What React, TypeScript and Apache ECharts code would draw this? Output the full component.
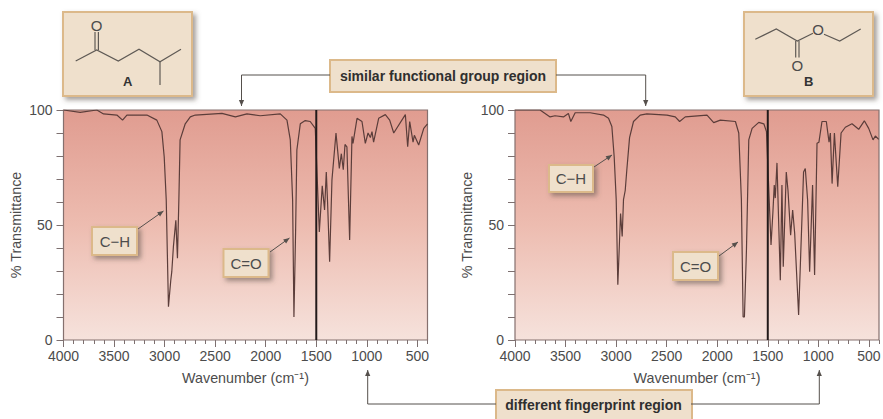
import React, { useEffect, useRef } from "react";
import * as echarts from "echarts";

const wavenumberTicks = [4000, 3500, 3000, 2500, 2000, 1500, 1000, 500];
const transmittanceLabels = [0, 50, 100];

const ketoneWavenumbers = [4000, 3835, 3670, 3604, 3472, 3416, 3373, 3175, 3077, 3027, 3004, 2984, 2962, 2939, 2929, 2913, 2889, 2873, 2859, 2847, 2796, 2746, 2697, 2433, 2300, 2186, 2054, 1856, 1790, 1757, 1734, 1721, 1705, 1692, 1658, 1609, 1560, 1510, 1470, 1441, 1418, 1401, 1388, 1368, 1345, 1305, 1272, 1252, 1233, 1216, 1197, 1170, 1147, 1137, 1097, 1048, 1015, 988, 965, 949, 933, 883, 817, 774, 734, 619, 596, 576, 543, 530, 487, 437, 400];
const ketoneTransmittance = [100, 99, 100, 98.3, 97.8, 95.6, 97.8, 97.8, 95.6, 90.6, 79.7, 61, 14.5, 26, 29.7, 40.6, 52, 35.6, 61, 87, 94, 97, 97.8, 98.5, 97, 98.3, 97.5, 98.3, 95.6, 87, 61, 10, 46, 82.6, 94, 95.4, 95, 92, 47, 67, 56.5, 73, 59.5, 34, 69.6, 90, 74.6, 81, 74, 85, 84, 43.5, 88.5, 85.5, 96.4, 95, 85.5, 90, 88, 90.6, 86, 96.4, 98, 95.6, 90, 98, 84, 95, 86, 89, 84.8, 92, 94];

const esterWavenumbers = [4000, 3752, 3653, 3604, 3521, 3472, 3448, 3405, 3257, 3125, 3075, 3042, 3019, 2999, 2983, 2956, 2940, 2927, 2910, 2894, 2867, 2828, 2762, 2696, 2497, 2415, 2372, 2316, 2101, 2035, 1969, 1820, 1787, 1761, 1744, 1731, 1711, 1688, 1655, 1589, 1539, 1513, 1468, 1449, 1436, 1426, 1409, 1376, 1360, 1347, 1317, 1300, 1274, 1254, 1234, 1195, 1146, 1129, 1106, 1086, 1057, 1037, 1013, 994, 964, 921, 894, 881, 864, 841, 808, 775, 733, 667, 601, 545, 502, 459, 436, 403];
const esterTransmittance = [100, 100, 97, 97.5, 97, 98.5, 95, 98.8, 98.8, 97.8, 96.4, 92.8, 79.7, 61, 24, 55, 45, 61, 65, 74, 88, 95, 97.8, 98.3, 97.8, 97, 95, 97, 97.8, 94.5, 95.6, 95, 90, 61, 10, 10, 39, 87, 92, 94.6, 94, 90.6, 41.3, 55.8, 67.4, 61.7, 77, 26, 67.4, 31.9, 73, 65, 45.6, 56.5, 46.4, 10.9, 73, 74.6, 60.9, 29.7, 67.4, 28.3, 85.5, 86, 95, 95, 86, 90, 68, 90, 66.7, 90, 92.5, 94, 91.6, 95.3, 92, 87, 88.7, 87.2];

const TEXT = "#4c4c4c";
const FONT = "'Liberation Sans', Arial, sans-serif";
const BOX_FILL = "#efe0cc";
const BOX_EDGE = "#dcb98a";
const BOND = "#5f5a55";
const ARROW = "#55504c";

const zip = (xs: number[], ys: number[]) => xs.map((x, i) => [x, ys[i]]);

const box = (x: number, y: number, w: number, h: number, shadow = true) => ({
  type: "rect", z: 10,
  shape: { x, y, width: w, height: h },
  style: {
    fill: BOX_FILL, stroke: BOX_EDGE, lineWidth: 2,
    ...(shadow ? { shadowBlur: 5, shadowOffsetX: 3, shadowOffsetY: 3, shadowColor: "rgba(90,80,70,0.55)" } : {}),
  },
});
const label = (text: string, x: number, y: number, size: number, weight = "normal", fill = TEXT) => ({
  type: "text", z: 11, x, y,
  style: { text, fontFamily: FONT, fontSize: size, fontWeight: weight, fill, textAlign: "center", textVerticalAlign: "middle" },
});
const poly = (points: number[][], stroke = BOND, lineWidth = 1.2) => ({
  type: "polyline", z: 11, shape: { points }, style: { stroke, lineWidth, fill: "none" },
});
const head = (x1: number, y1: number, x2: number, y2: number, size = 6, half = 2.6) => {
  const d = Math.hypot(x2 - x1, y2 - y1) || 1;
  const ux = (x2 - x1) / d, uy = (y2 - y1) / d;
  const bx = x2 - ux * size, by = y2 - uy * size;
  return {
    type: "polygon", z: 11,
    shape: { points: [[x2, y2], [bx - uy * half, by + ux * half], [bx + uy * half, by - ux * half]] },
    style: { fill: ARROW },
  };
};
const arrow = (points: number[][]) => {
  const a = points[points.length - 2], b = points[points.length - 1];
  return [poly(points, ARROW, 1), head(a[0], a[1], b[0], b[1])];
};

const graphics: any[] = [
  // structure A
  box(63, 12, 129, 84),
  poly([[75.7, 61], [96.7, 50], [118.3, 61], [139, 49.3], [160, 61.7], [181, 49.3]]),
  poly([[160, 61.7], [160, 85]]),
  poly([[95, 50], [95, 32]]),
  poly([[98.4, 50], [98.4, 32]]),
  label("O", 96.7, 25.5, 15),
  label("A", 127.7, 81.5, 13, "bold", "#333"),
  // structure B
  box(744, 12, 129, 84),
  poly([[755.3, 39.3], [776.3, 29], [797.3, 41], [813, 33.3]]),
  poly([[824, 34.3], [839.7, 41], [860.7, 29]]),
  poly([[795.7, 41], [795.7, 57.5]]),
  poly([[799, 41], [799, 57.5]]),
  label("O", 818, 29, 15),
  label("O", 797.3, 65, 15),
  label("B", 808.7, 81, 13, "bold", "#333"),
  // region callouts
  ...arrow([[330, 75], [241.5, 75], [241.5, 106]]),
  ...arrow([[556, 75], [645.7, 75], [645.7, 106]]),
  box(330, 60, 226, 32, false),
  label("similar functional group region", 443, 76, 14, "bold", "#2f2f2f"),
  ...arrow([[496, 404], [367.7, 404], [367.7, 370]]),
  ...arrow([[691, 404], [819.3, 404], [819.3, 370]]),
  box(496, 390, 196, 32, false),
  label("different fingerprint region", 593.5, 404.5, 14, "bold", "#2f2f2f"),
  // peak callouts
  ...arrow([[138, 229], [163.5, 211]]),
  box(92, 227, 45, 28),
  label("C\u2212H", 115, 241, 15),
  ...arrow([[270, 252], [289.5, 238]]),
  box(223.5, 249, 45, 28),
  label("C=O", 246, 263, 15),
  ...arrow([[594, 167], [612, 155]]),
  box(549, 165, 44, 27),
  label("C\u2212H", 571, 178.5, 15),
  ...arrow([[719, 256], [738, 242]]),
  box(673, 252, 45, 28),
  label("C=O", 695.5, 266, 15),
];

const plotFill = new echarts.graphic.LinearGradient(0, 0, 0, 1, [
  { offset: 0, color: "#e09c90" },
  { offset: 0.5, color: "#edbcb0" },
  { offset: 1, color: "#f6e2dc" },
]);

const xPair = (gridIndex: number) => [
  {
    type: "value", gridIndex, inverse: true, min: 400, max: 4000, position: "bottom",
    splitLine: { show: false }, axisLine: { show: false },
    axisTick: { show: true, customValues: wavenumberTicks, length: 7, lineStyle: { color: "#7d7070", width: 1 } },
    axisLabel: {
      show: true, customValues: wavenumberTicks, color: TEXT, fontFamily: FONT, fontSize: 14, margin: 9,
      formatter: (v: number) => String(v),
    },
    name: "Wavenumber (cm\u207B\u00B9)", nameLocation: "middle", nameGap: 31,
    nameTextStyle: { color: TEXT, fontFamily: FONT, fontSize: 14.3 },
  },
  {
    type: "value", gridIndex, inverse: true, min: 400, max: 4000, interval: 100, position: "bottom",
    splitLine: { show: false }, axisLine: { show: false },
    axisTick: { show: true, length: 4, lineStyle: { color: "#7d7070", width: 1 } },
    axisLabel: { show: false },
  },
];

const yAxis = (gridIndex: number) => ({
  type: "value", gridIndex, min: 0, max: 100, interval: 10,
  splitLine: { show: false }, axisLine: { show: false },
  axisTick: { show: true, length: 7, lineStyle: { color: "#7d7070", width: 1 } },
  axisLabel: { show: true, customValues: transmittanceLabels, color: TEXT, fontFamily: FONT, fontSize: 14, margin: 11 },
  name: "% Transmittance", nameLocation: "middle", nameGap: 41, nameRotate: 90,
  nameTextStyle: { color: TEXT, fontFamily: FONT, fontSize: 14.3 },
});

const spectrum = (name: string, idx: number, data: number[][]) => ({
  name, type: "line", xAxisIndex: idx * 2, yAxisIndex: idx, data,
  symbol: "none", smooth: false, lineStyle: { color: "#5b3d3a", width: 1.2 }, z: 3,
});
const boundary = (idx: number) => ({
  name: "boundary " + idx, type: "line", xAxisIndex: idx * 2, yAxisIndex: idx,
  data: [[1500, 0], [1500, 100]], symbol: "none", lineStyle: { color: "#231a1a", width: 2 }, z: 4,
});

export default function App() {
  const ref = useRef<HTMLDivElement>(null);
  useEffect(() => {
    const chart = echarts.init(ref.current!, null, { renderer: "svg" });
    const frame = { show: true, outerBoundsMode: "none", backgroundColor: plotFill, borderColor: "#85706e", borderWidth: 1.2 };
    chart.setOption({
      animation: false,
      backgroundColor: "#ffffff",
      textStyle: { fontFamily: FONT },
      grid: [
        { ...frame, left: 63.5, top: 110, width: 364, height: 230 },
        { ...frame, left: 515, top: 110, width: 364, height: 230 },
      ],
      xAxis: [...xPair(0), ...xPair(1)],
      yAxis: [yAxis(0), yAxis(1)],
      series: [
        spectrum("ketone A", 0, zip(ketoneWavenumbers, ketoneTransmittance)),
        boundary(0),
        spectrum("ester B", 1, zip(esterWavenumbers, esterTransmittance)),
        boundary(1),
      ],
      graphic: { elements: graphics },
    });
    return () => chart.dispose();
  }, []);
  return <div ref={ref} style={{ position: "fixed", left: 0, top: 0, width: 883, height: 419 }} />;
}
